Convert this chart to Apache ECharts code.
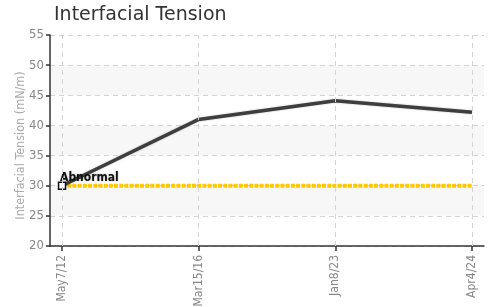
<!DOCTYPE html>
<html>
<head>
<meta charset="utf-8">
<script src="https://cdn.jsdelivr.net/npm/echarts@6/dist/echarts.min.js"></script>
<style>
html, body { margin: 0; padding: 0; background: #fff; }
#main { width: 492px; height: 307px; }
</style>
</head>
<body>
<div id="main"></div>
<script>
// data
var dates = ['May7/12', 'Mar15/16', 'Jan8/23', 'Apr4/24'];
var tension = [30, 41, 44.1, 42.2];
var limit = [30, 30, 30, 30];
var yTicks = [20, 25, 30, 35, 40, 45, 50, 55];

var narrow = '"DejaVu Sans Condensed", "Liberation Sans Narrow", "Roboto Condensed", "Liberation Sans", sans-serif';

function pairs(arr) {
    var out = [];
    for (var i = 0; i < arr.length; i++) {
        out.push([i, arr[i]]);
    }
    return out;
}
var idx = [];
for (var i = 0; i < dates.length; i++) idx.push(i);

var myChart = echarts.init(document.getElementById('main'));
var option = {
    animation: false,
    title: {
        text: 'Interfacial Tension',
        left: 49,
        top: 1,
        textStyle: {
            color: '#333',
            fontSize: 19,
            fontWeight: 'normal',
            fontFamily: '"DejaVu Sans", sans-serif'
        }
    },
    grid: {
        left: 50,
        right: 8,
        top: 35,
        bottom: 61,
        outerBoundsMode: 'none',
        containLabel: false
    },
    xAxis: {
        type: 'value',
        min: -0.088,
        max: 3.088,
        axisLine: { show: true, onZero: false, lineStyle: { color: '#333', width: 1.5 } },
        axisTick: { show: true, customValues: idx, length: 5, lineStyle: { color: '#333', width: 1.5 } },
        axisLabel: {
            customValues: idx,
            rotate: 90,
            color: '#888',
            fontSize: 12,
            fontFamily: narrow,
            margin: 9,
            formatter: function (v) { return dates[Math.round(v)] || ''; }
        },
        splitLine: { show: false }
    },
    yAxis: {
        type: 'value',
        min: yTicks[0],
        max: yTicks[yTicks.length - 1],
        interval: 5,
        name: 'Interfacial Tension (mN/m)',
        nameLocation: 'middle',
        nameGap: 23,
        nameMoveOverlap: false,
        nameTextStyle: { color: '#aaa', fontSize: 12.5, fontFamily: narrow, padding: [0, 10, 0, 0] },
        axisLine: { show: true, onZero: false, lineStyle: { color: '#333', width: 1.5 } },
        axisTick: { show: true, length: 4, lineStyle: { color: '#333', width: 1.5 } },
        axisLabel: { color: '#888', fontSize: 13, fontFamily: narrow, margin: 6 },
        splitLine: { show: true, lineStyle: { color: '#d4d4d4', type: [5, 4] } },
        splitArea: { show: true, areaStyle: { color: ['#ffffff', '#f7f7f7'] } }
    },
    series: [{
        name: 'limit',
        type: 'line',
        data: pairs(limit),
        symbol: 'none',
        lineStyle: { color: '#ffc800', width: 4, type: [4, 1.2] },
        z: 2,
        markLine: {
            silent: true,
            symbol: 'none',
            label: { show: false },
            lineStyle: { color: '#d4d4d4', type: [5, 4], width: 1 },
            data: idx.map(function (i) { return { xAxis: i }; })
        }
    }, {
        name: 'tension',
        type: 'line',
        data: pairs(tension),
        symbol: function (v, p) { return p.dataIndex === 0 ? 'rect' : 'none'; },
        symbolSize: 7,
        showAllSymbol: true,
        itemStyle: { color: '#fff', borderColor: '#111', borderWidth: 1.5 },
        lineStyle: { color: '#3e3e3e', width: 3.5, shadowColor: 'rgba(0,0,0,0.25)', shadowBlur: 2 },
        label: {
            show: true,
            position: 'top',
            distance: 0,
            align: 'left',
            offset: [-2, 2],
            color: '#111',
            fontSize: 12,
            fontWeight: 'bold',
            fontFamily: narrow,
            textShadowColor: 'rgba(0,0,0,0.3)',
            textShadowBlur: 2,
            formatter: function (p) { return p.dataIndex === 0 ? 'Abnormal' : ''; }
        },
        z: 3
    }]
};
myChart.setOption(option);
</script>
</body>
</html>
